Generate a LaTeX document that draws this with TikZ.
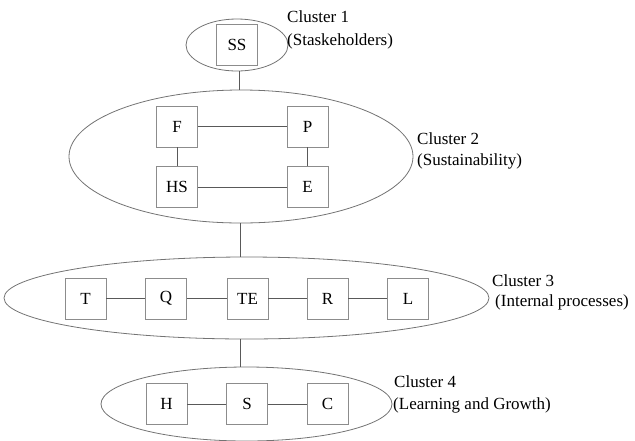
\documentclass[tikz,border=0pt]{standalone}
\usepackage{fontspec}
\setmainfont{Liberation Serif}
\usetikzlibrary{shapes.geometric}
\begin{document}
\begin{tikzpicture}[x=1pt,y=-1pt,
  box/.style={draw=black!45,line width=0.8pt,minimum width=41pt,minimum height=41pt,inner sep=0pt,font=\fontsize{17}{20}\selectfont},
  clus/.style={draw=black!55,line width=0.8pt,ellipse,inner sep=0pt},
  lbl/.style={anchor=west,inner sep=0pt,font=\fontsize{17}{20}\selectfont},
  link/.style={draw=black!65,line width=0.8pt}]
\useasboundingbox (0,0) rectangle (635,440);
% clusters
\node[clus,minimum width=102pt,minimum height=52pt] (c1) at (237,45) {};
\node[clus,minimum width=344pt,minimum height=133pt] (c2) at (241,156.5) {};
\node[clus,minimum width=485pt,minimum height=82pt] (c3) at (246.5,298) {};
\node[clus,minimum width=291pt,minimum height=74pt] (c4) at (246.5,404) {};
% boxes
\node[box] (ss) at (237,45) {SS};
\node[box] (f) at (177,126.5) {F};
\node[box] (p) at (307.5,126.5) {P};
\node[box] (hs) at (177,187) {HS};
\node[box] (e) at (307.5,187) {E};
\node[box] (t) at (85.5,298.5) {T};
\node[box] (q) at (166,298.5) {Q};
\node[box] (te) at (247.5,298.5) {TE};
\node[box] (r) at (327.5,298.5) {R};
\node[box] (l) at (408,298.5) {L};
\node[box] (h) at (166.5,404) {H};
\node[box] (s) at (247,404) {S};
\node[box] (cc) at (327.5,404) {C};
% links
\draw[link] (f) -- (p);
\draw[link] (hs) -- (e);
\draw[link] (f) -- (hs);
\draw[link] (p) -- (e);
\draw[link] (t) -- (q);
\draw[link] (q) -- (te);
\draw[link] (te) -- (r);
\draw[link] (r) -- (l);
\draw[link] (h) -- (s);
\draw[link] (s) -- (cc);
\coordinate (k1) at (239,71);
\coordinate (k2) at (240,223);
\coordinate (k3) at (240,339);
\draw[link] (k1) -- (k1 |- c2.north);
\draw[link] (k2) -- (k2 |- c3.north);
\draw[link] (k3) -- (k3 |- c4.north);
% labels
\node[lbl] (l1a) at (287,17) {Cluster 1};
\node[lbl] (l1b) at (287,41) {(Staskeholders)};
\node[lbl] (l2a) at (417,139) {Cluster 2};
\node[lbl] (l2b) at (417,161) {(Sustainability)};
\node[lbl] (l3a) at (492,281) {Cluster 3};
\node[lbl] (l3b) at (495,302) {(Internal processes)};
\node[lbl] (l4a) at (394,382) {Cluster 4};
\node[lbl] (l4b) at (393,405) {(Learning and Growth)};
\end{tikzpicture}
\end{document}
